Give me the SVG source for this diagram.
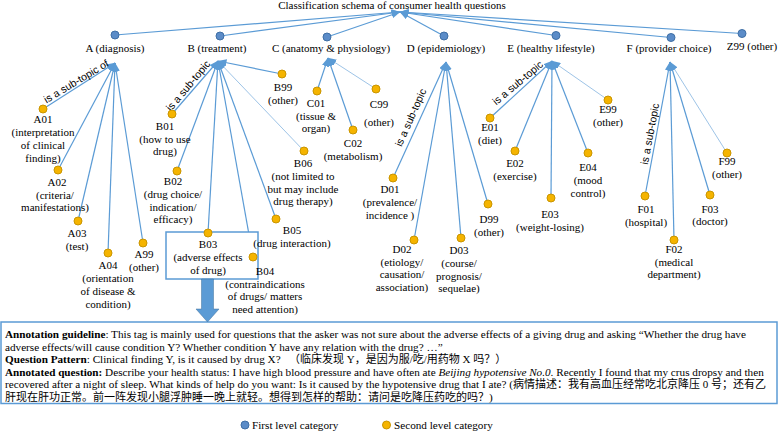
<svg xmlns="http://www.w3.org/2000/svg" width="778" height="433" viewBox="0 0 778 433">
<defs>
<marker id="ah" markerUnits="userSpaceOnUse" markerWidth="9" markerHeight="7" refX="8.5" refY="3.5" orient="auto">
<path d="M0,0 L9,3.5 L0,7 z" fill="#5b9bd5"/>
</marker>
<style>
.l{font-family:"Liberation Serif","Times New Roman",serif;font-size:11px;text-anchor:middle;fill:#000}
.n1{fill:#5b8cc8;stroke:#3f6fa5;stroke-width:1}
.n2{fill:#f5b400;stroke:#c99500;stroke-width:1}
.c line{stroke:#5b9bd5;stroke-width:1.2;fill:none;marker-end:url(#ah)}
.c line.t{stroke-width:0.6}
.sub{font-family:"Liberation Sans",Arial,sans-serif;font-size:10.5px;text-anchor:middle;fill:#000}
.a{font-family:"Liberation Serif","Times New Roman","Noto Sans CJK SC",serif;font-size:11.2px;fill:#000}
.cj{font-family:"Liberation Serif","Noto Sans CJK SC",serif;font-size:11px}
.b{font-weight:bold}
</style>
</defs>
<rect width="778" height="433" fill="#fff"/>
<text class="l" x="392" y="9">Classification schema of consumer health questions</text>

<g id="connectors" class="c">
<line x1="115" y1="35" x2="400" y2="12"/>
<line x1="220" y1="36" x2="400" y2="12"/>
<line x1="327" y1="37" x2="400" y2="12"/>
<line x1="444" y1="36" x2="400" y2="12"/>
<line x1="556" y1="35.5" x2="400" y2="12"/>
<line x1="671" y1="37.5" x2="400" y2="12"/>
<line x1="742" y1="33.5" x2="400" y2="12"/>
<line x1="43" y1="109" x2="115" y2="63"/>
<line x1="58" y1="170" x2="115" y2="63"/>
<line x1="78" y1="221" x2="115" y2="63"/>
<line x1="108" y1="253" x2="115" y2="63"/>
<line x1="143" y1="243" x2="115" y2="63"/>
<line x1="172" y1="114" x2="218" y2="61"/>
<line x1="177" y1="171" x2="218" y2="61"/>
<line x1="208" y1="233" x2="218" y2="61"/>
<line x1="253" y1="257" x2="218" y2="61"/>
<line x1="276" y1="219" x2="218" y2="61"/>
<line class="t" x1="304" y1="151" x2="218" y2="61"/>
<line x1="282" y1="74" x2="218" y2="61"/>
<line x1="317" y1="91" x2="328" y2="58"/>
<line x1="353" y1="130" x2="328" y2="58"/>
<line class="t" x1="376" y1="89" x2="328" y2="58"/>
<line x1="393" y1="178" x2="446" y2="62"/>
<line x1="414" y1="240" x2="446" y2="62"/>
<line x1="461" y1="238" x2="446" y2="62"/>
<line x1="488" y1="204" x2="446" y2="62"/>
<line x1="490" y1="118" x2="552" y2="61"/>
<line x1="515" y1="151" x2="552" y2="61"/>
<line x1="551" y1="198" x2="552" y2="61"/>
<line x1="588" y1="153" x2="552" y2="61"/>
<line class="t" x1="608" y1="100" x2="552" y2="61"/>
<line x1="645" y1="196" x2="670" y2="62"/>
<line x1="674" y1="240" x2="670" y2="62"/>
<line x1="710" y1="195" x2="670" y2="62"/>
<line class="t" x1="727" y1="153" x2="670" y2="62"/>
<text class="sub" transform="translate(78,84.5) rotate(-31)">is a sub-topic of</text>
<text class="sub" transform="translate(191,88) rotate(-50)">is a sub-topic</text>
<text class="sub" transform="translate(414,119) rotate(-66)">is a sub-topic</text>
<text class="sub" transform="translate(520,85.5) rotate(-40)">is a sub-topic</text>
<text class="sub" transform="translate(653.5,134.5) rotate(-79.5)">is a sub-topic</text>
</g>

<g id="A"><circle class="n1" cx="115" cy="35" r="4"/><text class="l" x="115" y="51.5">A (diagnosis)</text></g>
<g id="B"><circle class="n1" cx="220" cy="36" r="4"/><text class="l" x="217" y="51.5">B (treatment)</text></g>
<g id="C"><circle class="n1" cx="327" cy="37" r="4"/><text class="l" x="331" y="51.5">C (anatomy &amp; physiology)</text></g>
<g id="D"><circle class="n1" cx="444" cy="36" r="4"/><text class="l" x="446" y="51.5">D (epidemiology)</text></g>
<g id="E"><circle class="n1" cx="556" cy="35.5" r="4"/><text class="l" x="551" y="51.5">E (healthy lifestyle)</text></g>
<g id="F"><circle class="n1" cx="671" cy="37.5" r="4"/><text class="l" x="669" y="51.5">F (provider choice)</text></g>
<g id="Z99"><circle class="n1" cx="742" cy="33.5" r="4"/><text class="l" x="752" y="50">Z99 (other)</text></g>

<g id="A01"><circle class="n2" cx="43" cy="109" r="4"/><text class="l"><tspan x="43" y="123">A01</tspan><tspan x="43" y="136">(interpretation</tspan><tspan x="43" y="149">of clinical</tspan><tspan x="43" y="162">finding)</tspan></text></g>
<g id="A02"><circle class="n2" cx="58" cy="170" r="4"/><text class="l"><tspan x="57" y="186">A02</tspan><tspan x="55" y="198.5">(criteria/</tspan><tspan x="55" y="211">manifestations)</tspan></text></g>
<g id="A03"><circle class="n2" cx="78" cy="221" r="4"/><text class="l"><tspan x="77" y="237">A03</tspan><tspan x="77" y="250">(test)</tspan></text></g>
<g id="A04"><circle class="n2" cx="108" cy="253" r="4"/><text class="l"><tspan x="108" y="269">A04</tspan><tspan x="108" y="282">(orientation</tspan><tspan x="108" y="295">of disease &amp;</tspan><tspan x="108" y="307.5">condition)</tspan></text></g>
<g id="A99"><circle class="n2" cx="143" cy="243" r="4"/><text class="l"><tspan x="144" y="258">A99</tspan><tspan x="144" y="271">(other)</tspan></text></g>

<g id="B01"><circle class="n2" cx="172" cy="114" r="4"/><text class="l"><tspan x="165" y="130">B01</tspan><tspan x="165" y="142.5">(how to use</tspan><tspan x="165" y="155">drug)</tspan></text></g>
<g id="B02"><circle class="n2" cx="177" cy="171" r="4"/><text class="l"><tspan x="173" y="185">B02</tspan><tspan x="173" y="198">(drug choice/</tspan><tspan x="173" y="210.5">indication/</tspan><tspan x="173" y="223">efficacy)</tspan></text></g>
<g id="B03"><rect x="166" y="232" width="92" height="47" fill="#fff" stroke="#5b9bd5" stroke-width="1.5"/><circle class="n2" cx="208" cy="233" r="4"/><text class="l"><tspan x="208" y="247.5">B03</tspan><tspan x="208" y="261">(adverse effects</tspan><tspan x="208" y="274">of drug)</tspan></text></g>
<g id="B04"><circle class="n2" cx="253" cy="257" r="4"/><text class="l"><tspan x="265" y="275">B04</tspan><tspan x="265" y="287.5">(contraindications</tspan><tspan x="265" y="300">of drugs/ matters</tspan><tspan x="265" y="313">need attention)</tspan></text></g>
<g id="B05"><circle class="n2" cx="276" cy="219" r="4"/><text class="l"><tspan x="292" y="234">B05</tspan><tspan x="292" y="246.5">(drug interaction)</tspan></text></g>
<g id="B06"><circle class="n2" cx="304" cy="151" r="4"/><text class="l"><tspan x="303" y="167">B06</tspan><tspan x="303" y="180">(not limited to</tspan><tspan x="303" y="192.5">but may include</tspan><tspan x="303" y="205">drug therapy)</tspan></text></g>
<g id="B99"><circle class="n2" cx="282" cy="74" r="4"/><text class="l"><tspan x="283" y="90.5">B99</tspan><tspan x="283" y="103.5">(other)</tspan></text></g>

<g id="C01"><circle class="n2" cx="317" cy="91" r="4"/><text class="l"><tspan x="316" y="107">C01</tspan><tspan x="316" y="119.5">(tissue &amp;</tspan><tspan x="316" y="132">organ)</tspan></text></g>
<g id="C02"><circle class="n2" cx="353" cy="130" r="4"/><text class="l"><tspan x="353" y="147">C02</tspan><tspan x="353" y="159.5">(metabolism)</tspan></text></g>
<g id="C99"><circle class="n2" cx="376" cy="89" r="4"/><text class="l"><tspan x="379" y="108">C99</tspan><tspan x="379" y="125.5">(other)</tspan></text></g>

<g id="D01"><circle class="n2" cx="393" cy="178" r="4"/><text class="l"><tspan x="390" y="193">D01</tspan><tspan x="390" y="206">(prevalence/</tspan><tspan x="390" y="218.5">incidence )</tspan></text></g>
<g id="D02"><circle class="n2" cx="414" cy="240" r="4"/><text class="l"><tspan x="402" y="253">D02</tspan><tspan x="402" y="265.5">(etiology/</tspan><tspan x="402" y="278">causation/</tspan><tspan x="402" y="290.5">association)</tspan></text></g>
<g id="D03"><circle class="n2" cx="461" cy="238" r="4"/><text class="l"><tspan x="459" y="254">D03</tspan><tspan x="459" y="266.5">(course/</tspan><tspan x="459" y="279.5">prognosis/</tspan><tspan x="459" y="292">sequelae)</tspan></text></g>
<g id="D99"><circle class="n2" cx="488" cy="204" r="4"/><text class="l"><tspan x="489" y="222.5">D99</tspan><tspan x="489" y="235.5">(other)</tspan></text></g>

<g id="E01"><circle class="n2" cx="490" cy="118" r="4"/><text class="l"><tspan x="490" y="130.5">E01</tspan><tspan x="490" y="143.5">(diet)</tspan></text></g>
<g id="E02"><circle class="n2" cx="515" cy="151" r="4"/><text class="l"><tspan x="515" y="167">E02</tspan><tspan x="515" y="180">(exercise)</tspan></text></g>
<g id="E03"><circle class="n2" cx="551" cy="198" r="4"/><text class="l"><tspan x="550" y="218">E03</tspan><tspan x="550" y="230.5">(weight-losing)</tspan></text></g>
<g id="E04"><circle class="n2" cx="588" cy="153" r="4"/><text class="l"><tspan x="588" y="170.5">E04</tspan><tspan x="588" y="183.5">(mood</tspan><tspan x="588" y="196.5">control)</tspan></text></g>
<g id="E99"><circle class="n2" cx="608" cy="100" r="4"/><text class="l"><tspan x="608" y="113">E99</tspan><tspan x="608" y="125.5">(other)</tspan></text></g>

<g id="F01"><circle class="n2" cx="645" cy="196" r="4"/><text class="l"><tspan x="646" y="213">F01</tspan><tspan x="646" y="225.5">(hospital)</tspan></text></g>
<g id="F02"><circle class="n2" cx="674" cy="240" r="4"/><text class="l"><tspan x="674" y="252.5">F02</tspan><tspan x="674" y="265.5">(medical</tspan><tspan x="674" y="278">department)</tspan></text></g>
<g id="F03"><circle class="n2" cx="710" cy="195" r="4"/><text class="l"><tspan x="710" y="212.5">F03</tspan><tspan x="710" y="225">(doctor)</tspan></text></g>
<g id="F99"><circle class="n2" cx="727" cy="153" r="4"/><text class="l"><tspan x="727" y="165">F99</tspan><tspan x="727" y="178">(other)</tspan></text></g>

<g id="annotation">
<rect x="1" y="322" width="776" height="81.5" fill="#fff" stroke="#5b9bd5" stroke-width="1.5"/>
<path d="M201.5,279 L213.5,279 L213.5,309 L219,309 L207.5,322 L196,309 L201.5,309 z" fill="#5b9bd5" stroke="#41719c" stroke-width="0.5"/>
<text class="a" x="5" y="338"><tspan class="b">Annotation guideline</tspan>: This tag is mainly used for questions that the asker was not sure about the adverse effects of a giving drug and asking “Whether the drug have</text>
<text class="a" x="5" y="350.6">adverse effects/will cause condition Y? Whether condition Y have any relation with the drug? …”</text>
<text class="a" x="5" y="363.2"><tspan class="b">Question Pattern</tspan>: Clinical finding Y, is it caused by drug X?<tspan class="cj" x="289">（临床发现 Y，是因为服/吃/用药物 X 吗？）</tspan></text>
<text class="a" x="5" y="375.8"><tspan class="b">Annotated question:</tspan> Describe your health status: I have high blood pressure and have often ate <tspan font-style="italic">Beijing hypotensive No.0</tspan>. Recently I found that my crus dropsy and then</text>
<text class="a" x="5" y="388.4">recovered after a night of sleep. What kinds of help do you want: Is it caused by the hypotensive drug that I ate? (<tspan class="cj">病情描述：我有高血压经常吃北京降压 0 号；还有乙</tspan></text>
<text class="a" x="5" y="401"><tspan class="cj">肝现在肝功正常。前一阵发现小腿浮肿睡一晚上就轻。想得到怎样的帮助：请问是吃降压药吃的吗？</tspan>)</text>
</g>

<g id="legend">
<circle class="n1" cx="245" cy="425" r="4"/>
<text class="a" x="252" y="429">First level category</text>
<circle class="n2" cx="386.5" cy="425" r="4"/>
<text class="a" x="394" y="429">Second level category</text>
</g>
</svg>
